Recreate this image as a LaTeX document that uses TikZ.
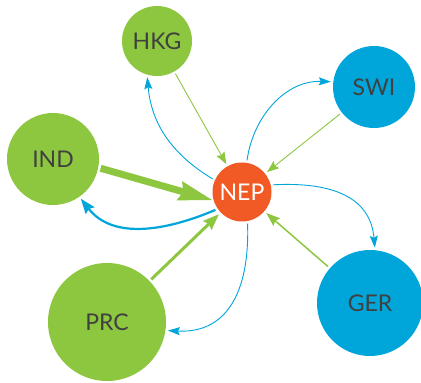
\documentclass[tikz,border=0pt]{standalone}
\usepackage{fontspec}
\setmainfont{Lato}
\usepackage{tikz}
\usetikzlibrary{
  arrows.meta,
  positioning
}
\definecolor{exportcolor}{RGB}{141, 198, 63}
\definecolor{importcolor}{RGB}{0, 166, 218}
\definecolor{hubcolor}{RGB}{241, 90, 36}
\definecolor{labelcolor}{RGB}{64, 64, 64}
\tikzset{
country/.style={
  circle,
  inner sep=0pt,
  outer sep=2.5pt,
  font=\fontsize{23}{24}\selectfont,
  text=labelcolor
},
greencountry/.style={
  country,
  fill=exportcolor
},
bluecountry/.style={
  country,
  fill=importcolor
},
hubcountry/.style={
  country,
  fill=hubcolor,
  text=white
},
inflow/.style={
  -{Stealth[length=12pt,width=9pt,inset=2pt]},
  line width=0.9pt,
  draw=exportcolor
},
outflow/.style={
  -{Stealth[length=12pt,width=8pt,inset=2pt]},
  line width=0.9pt,
  draw=importcolor
}
}

\begin{document}
\begin{tikzpicture}[x=1pt, y=1pt]
      \useasboundingbox (0,0) rectangle (421,383);
      % Countries
      \node[hubcountry, minimum size=59pt] (NEP) at (242,191) {NEP};
      \node[greencountry, minimum size=70pt] (HKG) at (157,342) {HKG};
      \node[greencountry, minimum size=92pt] (IND) at (53,224) {IND};
      \node[greencountry, minimum size=118pt] (PRC) at (107,61) {PRC};
      \node[bluecountry, minimum size=82pt] (SWI) at (374,296) {SWI};
      \node[bluecountry, minimum size=106pt] (GER) at (370,80) {GER};
      % Flows into NEP
      \draw[inflow] (HKG) -- (NEP);
      \draw[inflow] (SWI) -- (NEP);
      \draw[inflow, line width=1.5pt, -{Stealth[length=14pt,width=10pt,inset=2pt]}] (GER) -- (NEP);
      \draw[inflow, line width=3pt, -{Stealth[length=16pt,width=12pt,inset=2pt]}] (PRC) -- (NEP);
      \draw[inflow, line width=7pt, -{Stealth[length=34pt,width=18pt,inset=3pt]}, shorten >=-2.5pt]
        (IND.-11) -- (NEP.194);
      % Flows out of NEP
      \draw[outflow] (NEP.156) to[out=149, in=-85] (HKG.255);
      \draw[outflow] (NEP.81) to[out=82, in=178] (SWI.173);
      \draw[outflow] (NEP.13) to[out=3, in=95, looseness=1.15] (GER.85);
      \draw[outflow] (NEP.-80) to[out=-88, in=-3, looseness=1.2] (PRC.-8);
      \draw[outflow, line width=2.2pt, -{Stealth[length=15pt,width=11pt,inset=2pt]}]
        (NEP.214) to[out=203, in=-52] (IND.-55);
    \end{tikzpicture}
\end{document}
